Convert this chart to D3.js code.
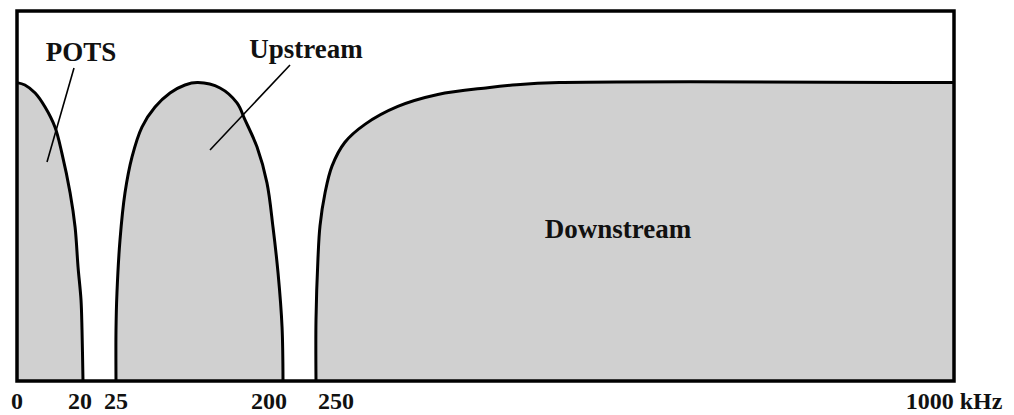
<!DOCTYPE html>
<html lang="en">
<head>
  <meta charset="UTF-8">
  <title>ADSL spectrum</title>
  <script src="https://d3js.org/d3.v7.min.js"></script>
  <style>
    body { margin: 0; background: #fff; }
    text { font-family: "Liberation Serif", "DejaVu Serif", serif; font-weight: bold; fill: #111; }
  </style>
</head>
<body>
  <svg width="1014" height="415" id="chart"></svg>

  <script>
    // band edges (kHz) and tick labels
    const bandEdges = [0, 20, 25, 200, 250, 1000];
    const tickValues = [0, 20, 25, 200, 250];
    const unitLabel = "1000 kHz";

    // relative level curves (kHz, level 0..1)
    const potsFreq = [0, 2.4, 5.5, 8.5, 11.5, 13.6, 16.1, 17.6, 18.5, 19.4, 19.7, 20];
    const potsLevel = [1.0, 0.992, 0.965, 0.918, 0.851, 0.764, 0.63, 0.516, 0.382, 0.271, 0.171, 0];

    const upFreq = [25, 25, 26.0, 29.2, 34.4, 41.8, 52.2, 65.9, 81.6, 97.3, 110.9, 134.0, 151.8, 160.2, 172.8, 183.2, 189.5, 194.8, 199.0, 200];
    const upLevel = [0, 0.171, 0.295, 0.473, 0.63, 0.751, 0.851, 0.918, 0.965, 0.992, 1.0, 0.982, 0.932, 0.875, 0.784, 0.664, 0.516, 0.362, 0.181, 0];

    const downFreq = [250, 250, 252.3, 254.7, 260.6, 268.8, 284, 307.5, 346.2, 393.2, 451.9, 486, 536, 1000];
    const downLevel = [0, 0.205, 0.41, 0.52, 0.63, 0.72, 0.80, 0.86, 0.92, 0.96, 0.983, 0.993, 1.0, 1.0];

    const svg = d3.select("#chart");

    // the picture is schematic: each band gets its own stretch of the axis
    const x = d3.scaleLinear().domain(bandEdges).range([17, 83, 116, 283, 316, 954]);
    const y = d3.scaleLinear().domain([0, 1.24]).range([381, 11]);

    const bands = [
      { name: "POTS", freq: potsFreq, level: potsLevel },
      { name: "Upstream", freq: upFreq, level: upLevel },
      { name: "Downstream", freq: downFreq, level: downLevel }
    ].map(b => ({ name: b.name, pts: b.freq.map((f, i) => [f, b.level[i]]) }));

    const area = d3.area()
      .x(d => x(d[0]))
      .y0(y(0))
      .y1(d => y(d[1]))
      .curve(d3.curveCatmullRom.alpha(0.5));

    const line = d3.line()
      .x(d => x(d[0]))
      .y(d => y(d[1]))
      .curve(d3.curveCatmullRom.alpha(0.5));

    svg.selectAll("path.band")
      .data(bands)
      .join("path")
      .attr("class", "band")
      .attr("d", d => area(d.pts))
      .attr("fill", "#d0d0d0");

    svg.selectAll("path.edge")
      .data(bands)
      .join("path")
      .attr("class", "edge")
      .attr("d", d => line(d.pts))
      .attr("fill", "none")
      .attr("stroke", "#000")
      .attr("stroke-width", 3);

    // frame
    svg.append("rect")
      .attr("x", x(0))
      .attr("y", y(1.24))
      .attr("width", x(1000) - x(0))
      .attr("height", y(0) - y(1.24))
      .attr("fill", "none")
      .attr("stroke", "#000")
      .attr("stroke-width", 3.5);

    // leader lines
    svg.append("line")
      .attr("x1", 74).attr("y1", 68).attr("x2", 47).attr("y2", 162)
      .attr("stroke", "#000").attr("stroke-width", 1.6);
    svg.append("line")
      .attr("x1", 290).attr("y1", 65).attr("x2", 210).attr("y2", 150)
      .attr("stroke", "#000").attr("stroke-width", 1.6);

    // band names
    svg.append("text").attr("x", 81).attr("y", 61)
      .attr("text-anchor", "middle").style("font-size", "27px").text("POTS");
    svg.append("text").attr("x", 306).attr("y", 58)
      .attr("text-anchor", "middle").style("font-size", "27px").text("Upstream");
    svg.append("text").attr("x", 618).attr("y", 238)
      .attr("text-anchor", "middle").style("font-size", "27px").text("Downstream");

    // tick labels
    svg.selectAll("text.tick")
      .data(tickValues)
      .join("text")
      .attr("class", "tick")
      .attr("x", d => x(d))
      .attr("y", 409)
      .attr("text-anchor", d => d === 200 ? "end" : d === 250 ? "start" : "middle")
      .attr("dx", d => d === 200 ? 4 : d === 250 ? 2 : d === 20 ? -3 : 0)
      .style("font-size", "24px")
      .text(d => d);

    svg.append("text")
      .attr("x", x(1000))
      .attr("y", 409)
      .attr("text-anchor", "middle")
      .style("font-size", "24px")
      .text(unitLabel);
  </script>
</body>
</html>
